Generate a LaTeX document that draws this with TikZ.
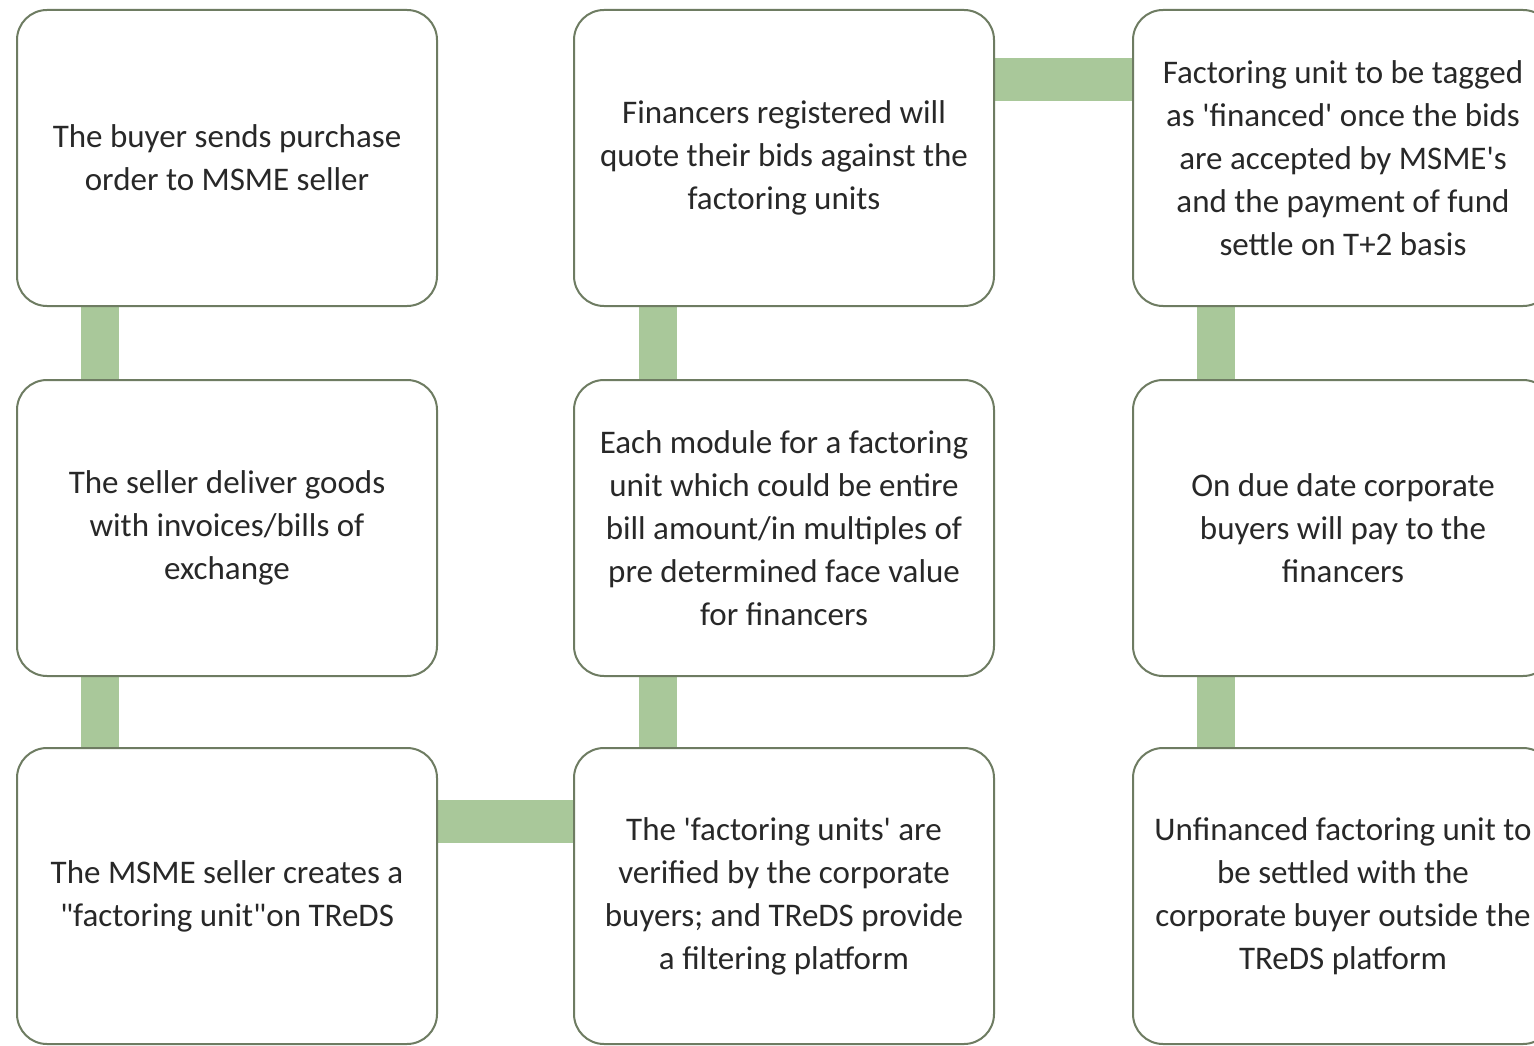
\documentclass[tikz,border=0pt]{standalone}
\usepackage{fontspec}
\setmainfont{Carlito}[Ligatures=TeXOff]
\usetikzlibrary{calc,backgrounds}
\definecolor{boxline}{RGB}{110,124,98}
\definecolor{conncol}{RGB}{169,200,154}
\definecolor{txt}{RGB}{40,40,40}
\tikzset{
  stepbox/.style={draw=boxline, line width=2pt, fill=white, rounded corners=30pt,
    minimum width=420pt, minimum height=296pt, inner sep=0pt, outer sep=0pt,
    align=center, text=txt, font=\fontsize{33}{43}\selectfont},
  conn/.style={draw=conncol, line width=38pt},
  connh/.style={draw=conncol, line width=43pt}
}
\begin{document}
\begin{tikzpicture}[x=1pt,y=-1pt]
\useasboundingbox (0,0) rectangle (1534,1046);
\clip (0,0) rectangle (1534,1046);
\node[stepbox] (a1) at (227,158) {The buyer sends purchase\\order to MSME seller};
\node[stepbox] (a2) at (227,528) {The seller deliver goods\\with invoices/bills of\\exchange};
\node[stepbox] (a3) at (227,896) {The MSME seller creates a\\"factoring unit"on TReDS};
\node[stepbox] (b3) at (784,896) {The 'factoring units' are\\verified by the corporate\\buyers; and TReDS provide\\a filtering platform};
\node[stepbox] (b2) at (784,528) {Each module for a factoring\\unit which could be entire\\bill amount/in multiples of\\pre determined face value\\for financers};
\node[stepbox] (b1) at (784,158) {Financers registered will\\quote their bids against the\\factoring units};
\node[stepbox] (c1) at (1343,158) {Factoring unit to be tagged\\as 'financed' once the bids\\are accepted by MSME's\\and the payment of fund\\settle on T+2 basis};
\node[stepbox] (c2) at (1343,528) {On due date corporate\\buyers will pay to the\\financers};
\node[stepbox] (c3) at (1343,896) {Unfinanced factoring unit to\\be settled with the\\corporate buyer outside the\\TReDS platform};
\begin{scope}[on background layer]
\fill[white] (0,0) rectangle (1534,1046);
\draw[conn] ($(a1.south west)+(83,0)$) -- ($(a2.north west)+(83,0)$);
\draw[conn] ($(a2.south west)+(83,0)$) -- ($(a3.north west)+(83,0)$);
\draw[connh] ($(a3.north east)+(0,73)$) -- ($(b3.north west)+(0,73)$);
\draw[conn] ($(b3.north west)+(84,0)$) -- ($(b2.south west)+(84,0)$);
\draw[conn] ($(b2.north west)+(84,0)$) -- ($(b1.south west)+(84,0)$);
\draw[connh] ($(b1.north east)+(0,70)$) -- ($(c1.north west)+(0,70)$);
\draw[conn] ($(c1.south west)+(83,0)$) -- ($(c2.north west)+(83,0)$);
\draw[conn] ($(c2.south west)+(83,0)$) -- ($(c3.north west)+(83,0)$);
\end{scope}
\end{tikzpicture}
\end{document}
